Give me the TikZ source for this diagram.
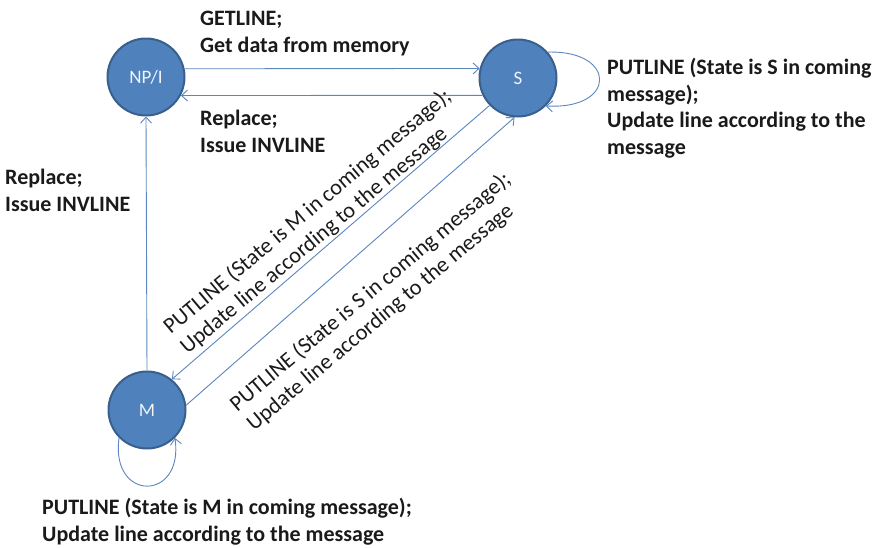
\documentclass[tikz,border=0pt]{standalone}
\usepackage{fontspec}
\setmainfont{Carlito}
\usetikzlibrary{arrows.meta}
\definecolor{stfill}{HTML}{4F81BD}
\definecolor{stdraw}{HTML}{3A5F8C}
\definecolor{lnblue}{HTML}{5B86BE}
\definecolor{txtc}{HTML}{1A1A1A}
\tikzset{
  state/.style={circle, fill=stfill, draw=stdraw, line width=2pt, minimum size=77pt, inner sep=0pt, text=white!92!stfill, font=\fontsize{19}{22}\selectfont},
  conn/.style={draw=lnblue, line width=0.9pt, -{Straight Barb[length=6pt,width=11pt,line width=0.9pt]}},
  lbl/.style={anchor=base west, align=left, inner sep=0pt, text=txtc, font=\bfseries\fontsize{22}{26.5}\selectfont},
  rlbl/.style={align=left, inner sep=0pt, text=txtc, rotate=40, font=\fontsize{22.3}{26}\selectfont}
}
\begin{document}
\begin{tikzpicture}[x=1pt,y=-1pt]
\useasboundingbox (0,0) rectangle (878,547);
\node[state] (NP) at (146,77) {NP/I};
\node[state] (S) at (518,78) {S};
\node[state] (M) at (147,410) {M};
\draw[conn] (NP.12) -- (S.166);
\draw[conn] (S.206) -- (NP.-28);
\draw[conn] (M.90) -- (NP.-90);
\draw[conn] (S.224) -- (M.51);
\draw[conn] (M.7) -- (S.265);
\draw[conn] (S.41) .. controls (617,50) and (617,110) .. (S.-45);
\draw[conn] (M.225) .. controls (110,502) and (184,502) .. (M.-45);
\node[lbl] (getl) at (200,52) {GETLINE;\\Get data from memory};
\node[lbl] (repl1) at (200,152) {Replace;\\Issue INVLINE};
\node[lbl] (repl2) at (5,211) {Replace;\\Issue INVLINE};
\node[lbl] (sput) at (607,154) {PUTLINE (State is S in coming\\message);\\Update line according to the\\message};
\node[lbl] (mput) at (42,541) {PUTLINE (State is M in coming message);\\Update line according to the message};
\node[rlbl] (smput) at (316,222) {PUTLINE (State is M in coming message);\\Update line according to the message};
\node[rlbl] (msput) at (379,302) {PUTLINE (State is S in coming message);\\Update line according to the message};
\end{tikzpicture}
\end{document}
